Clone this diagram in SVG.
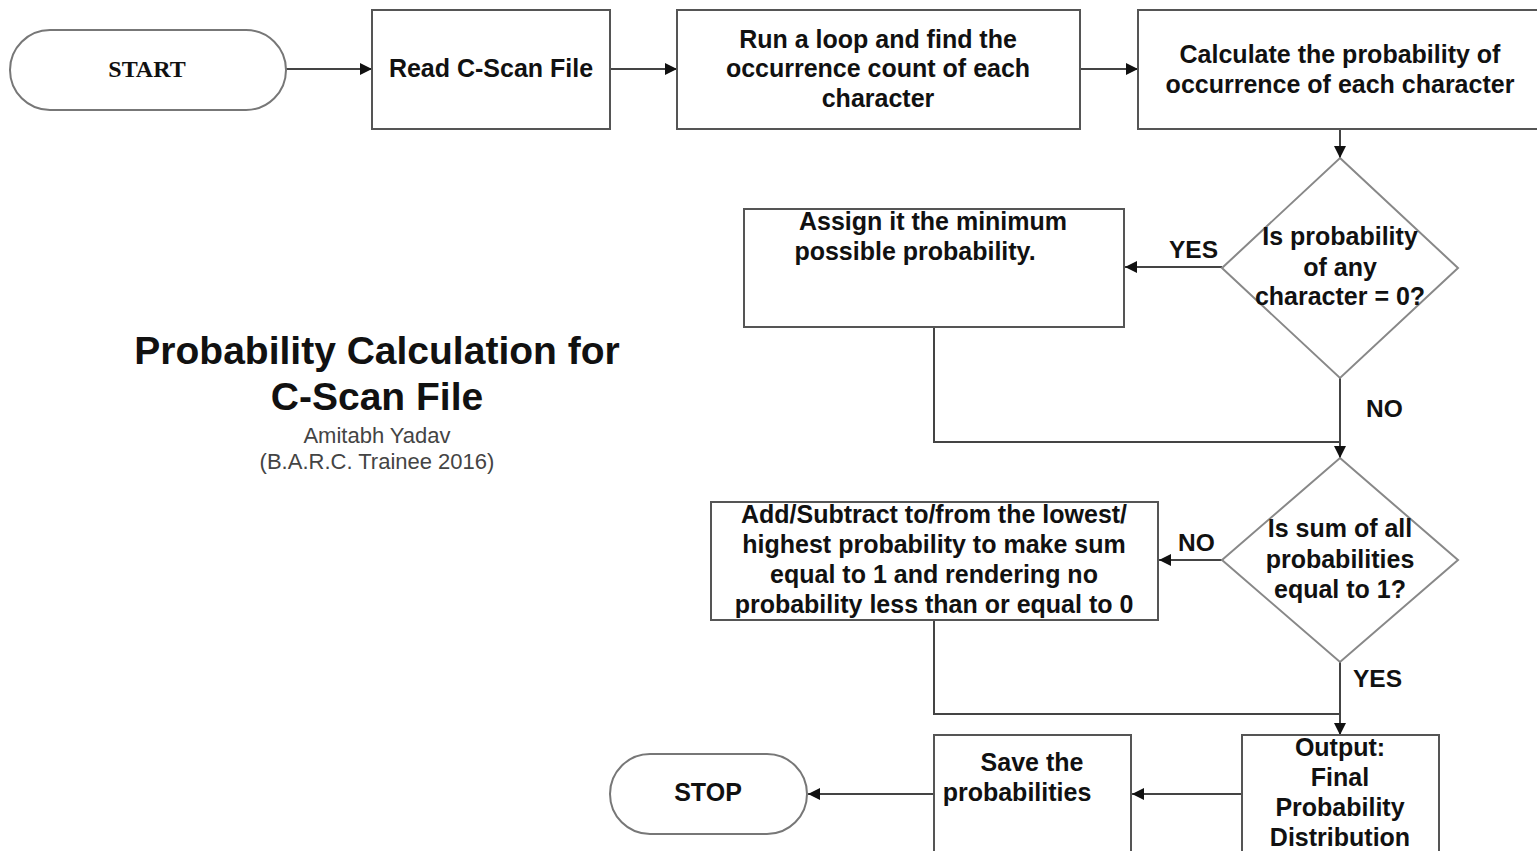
<svg xmlns="http://www.w3.org/2000/svg" width="1537" height="851" viewBox="0 0 1537 851">
<style>
.box{fill:#fff;stroke:#555;stroke-width:2}
.dia{fill:#fff;stroke:#888;stroke-width:2}
.t{font-family:"Liberation Sans",Arial,sans-serif;font-weight:bold;font-size:25px;fill:#111;text-anchor:middle}
.c{fill:none;stroke:#444;stroke-width:2}
.lbl{font-family:"Liberation Sans",Arial,sans-serif;font-weight:bold;font-size:24.5px;fill:#111}
</style>
<defs>
<marker id="ah" viewBox="0 0 10 10" refX="10" refY="5" markerWidth="12" markerHeight="12" markerUnits="userSpaceOnUse" orient="auto">
<path d="M0,0 L10,5 L0,10 z" fill="#111"/>
</marker>
</defs>
<rect width="1537" height="851" fill="#fff"/>
<g id="title">
<text x="377" y="364" font-family="Liberation Sans,Arial,sans-serif" font-weight="bold" font-size="39" fill="#111" text-anchor="middle">Probability Calculation for</text>
<text x="377" y="410" font-family="Liberation Sans,Arial,sans-serif" font-weight="bold" font-size="39" fill="#111" text-anchor="middle">C-Scan File</text>
<text x="377" y="443" font-family="Liberation Sans,Arial,sans-serif" font-size="22" fill="#444" text-anchor="middle">Amitabh Yadav</text>
<text x="377" y="469" font-family="Liberation Sans,Arial,sans-serif" font-size="22" fill="#444" text-anchor="middle">(B.A.R.C. Trainee 2016)</text>
</g>
<g id="connectors">
<line class="c" x1="286" y1="69" x2="372" y2="69" marker-end="url(#ah)"/>
<line class="c" x1="610" y1="69" x2="677" y2="69" marker-end="url(#ah)"/>
<line class="c" x1="1080" y1="69" x2="1138" y2="69" marker-end="url(#ah)"/>
<line class="c" x1="1340" y1="129" x2="1340" y2="158" marker-end="url(#ah)"/>
<line class="c" x1="1222" y1="267" x2="1125" y2="267" marker-end="url(#ah)"/>
<polyline class="c" points="934,327 934,442 1340,442"/>
<line class="c" x1="1340" y1="378" x2="1340" y2="458" marker-end="url(#ah)"/>
<line class="c" x1="1222" y1="560" x2="1159" y2="560" marker-end="url(#ah)"/>
<polyline class="c" points="934,620 934,714 1340,714"/>
<line class="c" x1="1340" y1="662" x2="1340" y2="735" marker-end="url(#ah)"/>
<line class="c" x1="1242" y1="794" x2="1132" y2="794" marker-end="url(#ah)"/>
<line class="c" x1="934" y1="794" x2="808" y2="794" marker-end="url(#ah)"/>
<text class="lbl" x="1169" y="258">YES</text>
<text class="lbl" x="1366" y="417">NO</text>
<text class="lbl" x="1178" y="551">NO</text>
<text class="lbl" x="1353" y="687">YES</text>
</g>
<g id="start">
<rect x="10" y="30" width="276" height="80" rx="40" ry="40" fill="#fff" stroke="#777" stroke-width="2"/>
<text x="147" y="77" font-family="Liberation Serif,Times New Roman,serif" font-weight="bold" font-size="24" fill="#111" text-anchor="middle">START</text>
</g>
<g id="read">
<rect class="box" x="372" y="10" width="238" height="119"/>
<text class="t" x="491" y="77">Read C-Scan File</text>
</g>
<g id="loop">
<rect class="box" x="677" y="10" width="403" height="119"/>
<text class="t" x="878" y="48">Run a loop and find the</text>
<text class="t" x="878" y="77">occurrence count of each</text>
<text class="t" x="878" y="107">character</text>
</g>
<g id="calc">
<rect class="box" x="1138" y="10" width="410" height="119"/>
<text class="t" x="1340" y="63">Calculate the probability of</text>
<text class="t" x="1340" y="93">occurrence of each character</text>
</g>
<g id="dec1">
<polygon class="dia" points="1340,158 1458,268 1340,378 1222,268"/>
<text class="t" x="1340" y="245">Is probability</text>
<text class="t" x="1340" y="276">of any</text>
<text class="t" x="1340" y="305">character = 0?</text>
</g>
<g id="assign">
<rect class="box" x="744" y="209" width="380" height="118"/>
<text class="t" x="933" y="230">Assign it the minimum</text>
<text class="t" x="915" y="260">possible probability.</text>
</g>
<g id="dec2">
<polygon class="dia" points="1340,458 1458,560 1340,662 1222,560"/>
<text class="t" x="1340" y="537">Is sum of all</text>
<text class="t" x="1340" y="568">probabilities</text>
<text class="t" x="1340" y="598">equal to 1?</text>
</g>
<g id="adjust">
<rect class="box" x="711" y="502" width="447" height="118"/>
<text class="t" x="934" y="523">Add/Subtract to/from the lowest/</text>
<text class="t" x="934" y="553">highest probability to make sum</text>
<text class="t" x="934" y="583">equal to 1 and rendering no</text>
<text class="t" x="934" y="613">probability less than or equal to 0</text>
</g>
<g id="output">
<rect class="box" x="1242" y="735" width="197" height="130"/>
<text class="t" x="1340" y="756">Output:</text>
<text class="t" x="1340" y="786">Final</text>
<text class="t" x="1340" y="816">Probability</text>
<text class="t" x="1340" y="846">Distribution</text>
</g>
<g id="save">
<rect class="box" x="934" y="735" width="197" height="130"/>
<text class="t" x="1032" y="771">Save the</text>
<text class="t" x="1017" y="801">probabilities</text>
</g>
<g id="stop">
<rect x="610" y="754" width="197" height="80" rx="40" ry="40" fill="#fff" stroke="#777" stroke-width="2"/>
<text x="708" y="801" font-family="Liberation Sans,Arial,sans-serif" font-weight="bold" font-size="25" fill="#111" text-anchor="middle">STOP</text>
</g>
</svg>
